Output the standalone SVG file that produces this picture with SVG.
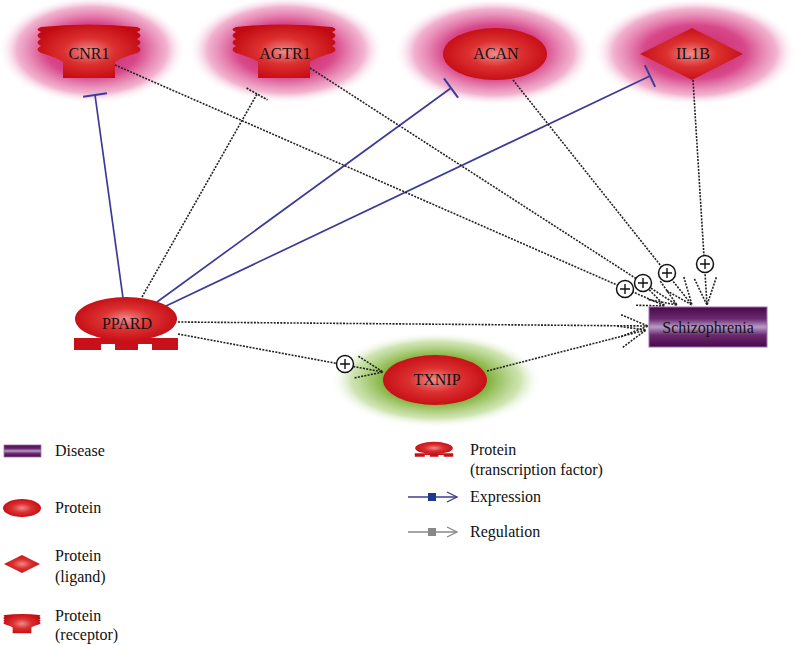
<svg xmlns="http://www.w3.org/2000/svg" xmlns:xlink="http://www.w3.org/1999/xlink" width="795" height="645" viewBox="0 0 795 645">
<style>
  text { font-family: "Liberation Serif", "Times New Roman", "DejaVu Serif", serif; }
  .lbl { font-size: 16px; fill: #111; text-anchor: middle; }
  .leg { font-size: 16px; fill: #111; }
  .red { fill: url(#gRed); }
  .halo { fill: url(#gHalo); }
  .blue { stroke: #3b3b98; stroke-width: 1.7; fill: none; }
  .dot { stroke: #222; stroke-width: 1.6; stroke-dasharray: 2 1.3; fill: none; }
</style>
<defs>
  <radialGradient id="gHalo" cx="0.5" cy="0.5" r="0.5">
    <stop offset="0" stop-color="#c81e60"/>
    <stop offset="0.5" stop-color="#d8488a"/>
    <stop offset="0.8" stop-color="#eea0c4" stop-opacity="0.8"/>
    <stop offset="1" stop-color="#ffffff" stop-opacity="0"/>
  </radialGradient>
  <radialGradient id="gGreen" cx="0.5" cy="0.5" r="0.5">
    <stop offset="0" stop-color="#5c9618"/>
    <stop offset="0.5" stop-color="#84b440"/>
    <stop offset="0.8" stop-color="#c4dea0" stop-opacity="0.8"/>
    <stop offset="1" stop-color="#ffffff" stop-opacity="0"/>
  </radialGradient>
  <radialGradient id="gRed" cx="0.5" cy="0.5" r="0.55">
    <stop offset="0" stop-color="#f08a8a"/>
    <stop offset="0.45" stop-color="#dc3030"/>
    <stop offset="1" stop-color="#c20a12"/>
  </radialGradient>
  <linearGradient id="gPurple" x1="0" y1="0" x2="0" y2="1">
    <stop offset="0" stop-color="#4a0848"/>
    <stop offset="0.3" stop-color="#6a2a70"/>
    <stop offset="0.5" stop-color="#b89cc8"/>
    <stop offset="0.7" stop-color="#6a2a70"/>
    <stop offset="1" stop-color="#4a0848"/>
  </linearGradient>
  <path id="receptor" d="M -48,0 Q 0,-5 48,0 Q 55,2.5 48,5 Q 55,8.5 48,12 Q 55,15.5 48,19 Q 55,22.5 48,26 Q 31,31 26,35 L 26,51 L -26,51 L -26,35 Q -31,31 -48,26 Q -55,22.5 -48,19 Q -55,15.5 -48,12 Q -55,8.5 -48,5 Q -55,2.5 -48,0 Z"/>
  <g id="tf">
    <path d="M -52,19 L 52,19 L 52,31 L 26,31 L 26,25 L 12,25 L 12,31 L -11,31 L -11,25 L -25,25 L -25,31 L -52,31 Z" fill="#c8101a"/>
    <ellipse cx="0" cy="0" rx="51" ry="22" fill="url(#gRed)"/>
  </g>
  <marker id="inhB" markerUnits="userSpaceOnUse" viewBox="-3 -14 6 28" markerWidth="6" markerHeight="28" refX="0" refY="0" orient="auto">
    <path d="M0,-12 L0,12" stroke="#3b3b98" stroke-width="2" fill="none"/>
  </marker>
  <marker id="inhK" markerUnits="userSpaceOnUse" viewBox="-3 -14 6 28" markerWidth="6" markerHeight="28" refX="0" refY="0" orient="auto">
    <path d="M0,-12 L0,12" stroke="#222" stroke-width="1.7" stroke-dasharray="2 1.3" fill="none"/>
  </marker>
  <marker id="arrK" markerUnits="userSpaceOnUse" viewBox="-30 -14 32 28" markerWidth="32" markerHeight="28" refX="0" refY="0" orient="auto">
    <path d="M-27,-11 L0,0 L-27,11" stroke="#222" stroke-width="1.6" stroke-dasharray="2 1.3" fill="none"/>
  </marker>
  <marker id="arrB" markerUnits="userSpaceOnUse" viewBox="-12 -6 14 12" markerWidth="14" markerHeight="12" refX="0" refY="0" orient="auto">
    <path d="M-10,-5 L0,0 L-10,5" stroke="#3b3b98" stroke-width="1.3" fill="none"/>
  </marker>
  <marker id="arrG" markerUnits="userSpaceOnUse" viewBox="-12 -6 14 12" markerWidth="14" markerHeight="12" refX="0" refY="0" orient="auto">
    <path d="M-10,-5 L0,0 L-10,5" stroke="#888" stroke-width="1.3" fill="none"/>
  </marker>
  <g id="plus">
    <circle cx="0" cy="0" r="8.5" fill="#ffffff" stroke="#111111" stroke-width="1.5"/>
    <path d="M-5,0 L5,0 M0,-5 L0,5" stroke="#111111" stroke-width="1.4" fill="none"/>
  </g>
</defs>

<g id="halos">
  <ellipse class="halo" cx="92" cy="50" rx="94" ry="54"/>
  <ellipse class="halo" cx="286" cy="50" rx="98" ry="54"/>
  <ellipse class="halo" cx="494" cy="52" rx="100" ry="54"/>
  <ellipse class="halo" cx="695" cy="52" rx="102" ry="54"/>
  <ellipse fill="url(#gGreen)" cx="436" cy="380" rx="106" ry="48"/>
</g>

<g id="connectors">
  <line class="blue" x1="123" y1="298" x2="95" y2="95" marker-end="url(#inhB)"/>
  <line class="dot" x1="142" y1="297" x2="257" y2="94" marker-end="url(#inhK)"/>
  <line class="blue" x1="157" y1="302" x2="451" y2="88" marker-end="url(#inhB)"/>
  <line class="blue" x1="166" y1="306" x2="650" y2="76" marker-end="url(#inhB)"/>
  <line class="dot" x1="115" y1="65" x2="665" y2="306" marker-end="url(#arrK)"/>
  <line class="dot" x1="310" y1="68" x2="677" y2="305" marker-end="url(#arrK)"/>
  <line class="dot" x1="513" y1="80" x2="692" y2="305" marker-end="url(#arrK)"/>
  <line class="dot" x1="693" y1="80" x2="707" y2="305" marker-end="url(#arrK)"/>
  <line class="dot" x1="178" y1="322" x2="648" y2="326" marker-end="url(#arrK)"/>
  <line class="dot" x1="178" y1="334" x2="383" y2="372" marker-end="url(#arrK)"/>
  <line class="dot" x1="487" y1="371" x2="646" y2="330" marker-end="url(#arrK)"/>
  <use xlink:href="#plus" x="625" y="289"/>
  <use xlink:href="#plus" x="643" y="283"/>
  <use xlink:href="#plus" x="667" y="273"/>
  <use xlink:href="#plus" x="705" y="264"/>
  <use xlink:href="#plus" x="345" y="364"/>
</g>

<g id="CNR1">
  <use xlink:href="#receptor" class="red" x="89" y="27"/>
  <text class="lbl" x="89" y="59">CNR1</text>
</g>
<g id="AGTR1">
  <use xlink:href="#receptor" class="red" x="284" y="27"/>
  <text class="lbl" x="285" y="59">AGTR1</text>
</g>
<g id="ACAN">
  <ellipse class="red" cx="495" cy="54" rx="52" ry="26"/>
  <text class="lbl" x="496" y="59">ACAN</text>
</g>
<g id="IL1B">
  <polygon class="red" points="640,54 692,28 743,54 692,80"/>
  <text class="lbl" x="693" y="59">IL1B</text>
</g>
<g id="PPARD">
  <use xlink:href="#tf" x="126" y="319"/>
  <text class="lbl" x="127" y="329">PPARD</text>
</g>
<g id="TXNIP">
  <ellipse class="red" cx="435" cy="380" rx="52" ry="25"/>
  <text class="lbl" x="437" y="385">TXNIP</text>
</g>
<g id="Schizophrenia">
  <rect x="649" y="307" width="118" height="40" fill="url(#gPurple)" stroke="#a070b0" stroke-width="1"/>
  <text class="lbl" x="708" y="333">Schizophrenia</text>
</g>

<g id="legend">
  <rect x="4" y="445" width="37" height="12" fill="url(#gPurple)" stroke="#a070b0" stroke-width="0.8"/>
  <text class="leg" x="55" y="456">Disease</text>
  <ellipse class="red" cx="22" cy="508" rx="19" ry="9"/>
  <text class="leg" x="55" y="513">Protein</text>
  <polygon class="red" points="4,564 22,555 40,564 22,573"/>
  <text class="leg" x="55" y="561">Protein</text>
  <text class="leg" x="55" y="582">(ligand)</text>
  <use xlink:href="#receptor" class="red" transform="translate(22,615) scale(0.36)"/>
  <text class="leg" x="55" y="621">Protein</text>
  <text class="leg" x="55" y="640">(receptor)</text>
  <use xlink:href="#tf" transform="translate(434,448) scale(0.37,0.28)"/>
  <text class="leg" x="470" y="455">Protein</text>
  <text class="leg" x="470" y="475">(transcription factor)</text>
  <line x1="408" y1="497" x2="457" y2="497" stroke="#3b3b98" stroke-width="1.3" marker-end="url(#arrB)"/>
  <rect x="428" y="493" width="8" height="8" fill="#1c3a8c"/>
  <text class="leg" x="470" y="502">Expression</text>
  <line x1="408" y1="532" x2="457" y2="532" stroke="#888" stroke-width="1.3" marker-end="url(#arrG)"/>
  <rect x="428" y="528" width="8" height="8" fill="#888"/>
  <text class="leg" x="470" y="537">Regulation</text>
</g>
</svg>
